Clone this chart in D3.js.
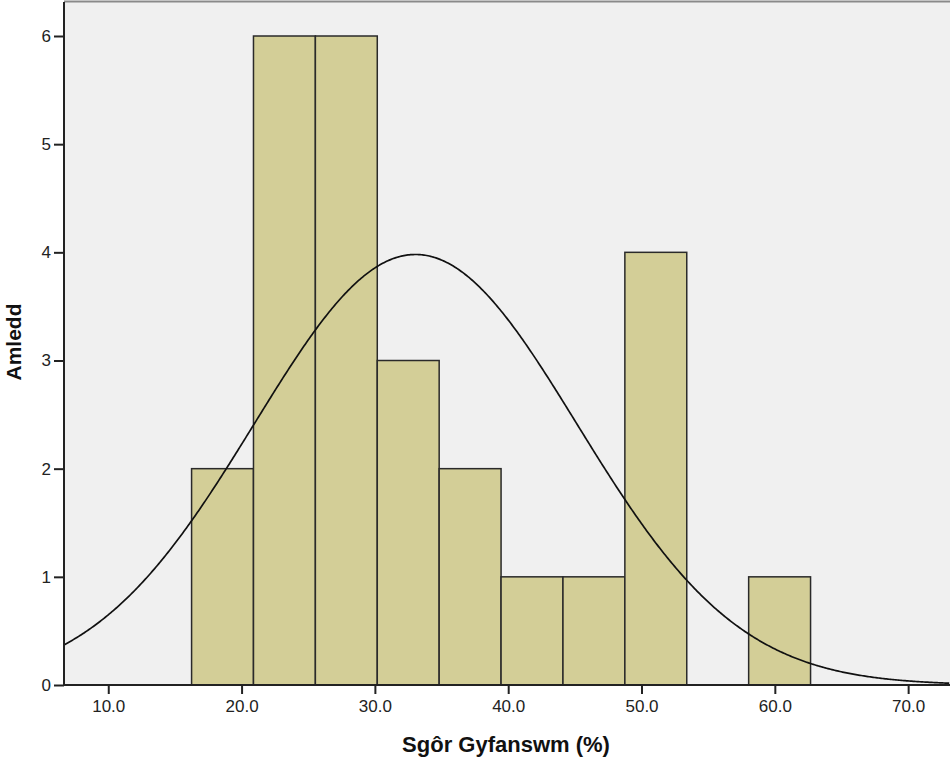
<!DOCTYPE html>
<html><head><meta charset="utf-8">
<script src="https://cdn.jsdelivr.net/npm/d3@7"></script>
<style>body{margin:0;background:#fff}svg{display:block}text{font-family:"Liberation Sans",Arial,sans-serif}</style>
</head><body>
<script>
// Data
const binStart = 16.25;
const binWidth = 4.643;
const counts = [2, 6, 6, 3, 2, 1, 1, 4, 0, 1];
const xTicks = [10, 20, 30, 40, 50, 60, 70];
const yTicks = [0, 1, 2, 3, 4, 5, 6];
const fitMean = 33.05;
const fitSD = 12.1;
const xLabel = "Sgôr Gyfanswm (%)";
const yLabel = "Amledd";

const W = 950, H = 758;
const m = {left: 64, right: 0, top: 2, bottom: 73};
const svg = d3.select("body").append("svg").attr("width", W).attr("height", H);
const x = d3.scaleLinear().domain([6.68, 73.14]).range([m.left, W - m.right]);
const y = d3.scaleLinear().domain([0, 6]).range([H - m.bottom, 36]);

svg.append("rect").attr("x", m.left).attr("y", m.top).attr("width", W - m.left - m.right)
  .attr("height", H - m.bottom - m.top).attr("fill", "#F0F0F0");
svg.append("line").attr("x1", m.left).attr("x2", W).attr("y1", 1.5).attr("y2", 1.5)
  .attr("stroke", "#8a8a8a").attr("stroke-width", 2);

const bins = counts.map((c, i) => ({x0: binStart + i * binWidth, x1: binStart + (i + 1) * binWidth, c}));
svg.append("g").selectAll("rect").data(bins.filter(d => d.c > 0)).join("rect")
  .attr("x", d => x(d.x0)).attr("y", d => y(d.c))
  .attr("width", d => x(d.x1) - x(d.x0)).attr("height", d => y(0) - y(d.c))
  .attr("fill", "#D3CE97").attr("stroke", "#2a2a2a").attr("stroke-width", 1.5);

// fitted normal curve
const N = d3.sum(counts);
const pts = d3.range(6.68, 73.15, 0.1).map(v => [v, N * binWidth / (fitSD * Math.sqrt(2 * Math.PI)) * Math.exp(-0.5 * ((v - fitMean) / fitSD) ** 2)]);
svg.append("path").datum(pts).attr("fill", "none").attr("stroke", "#111").attr("stroke-width", 1.7)
  .attr("d", d3.line().x(d => x(d[0])).y(d => y(d[1])));

const xa = svg.append("g").attr("transform", `translate(0,${H - m.bottom})`)
  .call(d3.axisBottom(x).tickValues(xTicks).tickFormat(d3.format(".1f")).tickSize(9).tickPadding(6).tickSizeOuter(0));
const ya = svg.append("g").attr("transform", `translate(${m.left},0)`)
  .call(d3.axisLeft(y).tickValues(yTicks).tickFormat(d3.format("d")).tickSize(10).tickPadding(3).tickSizeOuter(0));
[xa, ya].forEach(a => {
  a.select(".domain").attr("stroke", "#222").attr("stroke-width", 2);
  a.selectAll(".tick line").attr("stroke", "#222").attr("stroke-width", 2);
  a.selectAll("text").attr("fill", "#222").style("font-size", "17px");
});
xa.select(".domain").attr("d", `M${m.left},0H${W}`);
ya.select(".domain").attr("d", `M0,${m.top}V${H - m.bottom}`);

svg.append("text").attr("x", 506).attr("y", 752).attr("text-anchor", "middle")
  .style("font-size", "22px").style("font-weight", "bold").attr("fill", "#111").text(xLabel);
svg.append("text").attr("transform", "translate(21,342) rotate(-90)").attr("text-anchor", "middle")
  .style("font-size", "21px").style("font-weight", "bold").attr("fill", "#111").text(yLabel);
</script>
</body></html>
